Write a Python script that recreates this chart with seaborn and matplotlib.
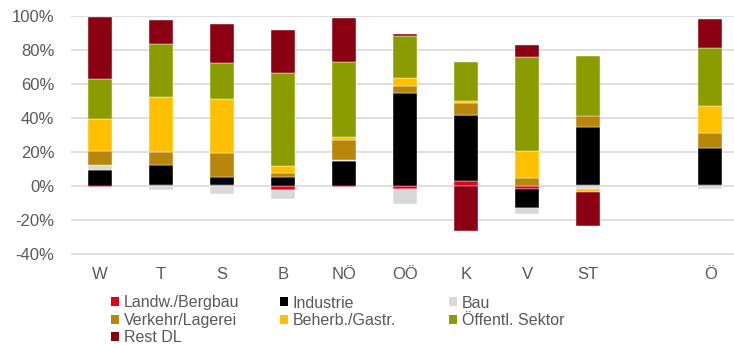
import numpy as np
import matplotlib
matplotlib.use("Agg")
import matplotlib.pyplot as plt
from matplotlib.patches import Patch
import seaborn as sns

sns.set_style("white")
plt.rcParams["font.family"] = ["Liberation Sans", "DejaVu Sans"]

# Regions (a blank slot separates the federal total "Ö")
regions = ["W", "T", "S", "B", "NÖ", "OÖ", "K", "V", "ST", "Ö"]
order = ["W", "T", "S", "B", "NÖ", "OÖ", "K", "V", "ST", " ", "Ö"]

# Contributions in percentage points per sector
landw = [-0.8, 0.4, 0.3, -2.6, -0.6, -1.6, 3.0, -2.0, 0.4, 0.4]
industrie = [9.4, 12.0, 5.0, 5.1, 14.5, 55.0, 38.5, -11.2, 34.5, 22.1]
bau = [3.0, -2.4, -4.9, -4.9, 1.0, -9.0, 0.3, -3.4, -1.6, -1.8]
verkehr = [8.2, 7.8, 14.3, 2.5, 11.4, 3.7, 7.2, 4.5, 6.3, 8.9]
beherb = [18.8, 32.2, 31.8, 3.9, 1.9, 5.1, 1.2, 16.1, -1.7, 15.9]
oeffentl = [23.5, 31.1, 20.8, 55.1, 44.1, 24.7, 22.9, 55.5, 35.3, 34.1]
rest_dl = [36.3, 14.1, 23.1, 25.3, 26.1, 0.8, -26.7, 6.6, -20.0, 16.6]

series = [
    ("Landw./Bergbau", landw, "#E2001A"),
    ("Industrie", industrie, "#000000"),
    ("Bau", bau, "#D9D9D9"),
    ("Verkehr/Lagerei", verkehr, "#B8860B"),
    ("Beherb./Gastr.", beherb, "#FFC000"),
    ("Öffentl. Sektor", oeffentl, "#8A9C00"),
    ("Rest DL", rest_dl, "#8B0012"),
]

y_ticks = [-40, -20, 0, 20, 40, 60, 80, 100]
y_ticklabels = ["-40%", "-20%", "0%", "20%", "40%", "60%", "80%", "100%"]

text_color = "#595959"
grid_color = "#D9D9D9"

fig = plt.figure(figsize=(7.34, 3.46), dpi=100)
ax = fig.add_axes([71 / 734, 1 - 254.5 / 346, 1 - 71 / 734, (254.5 - 15.5) / 346])

pos_base = np.zeros(len(regions))
neg_base = np.zeros(len(regions))
for name, vals, color in series:
    v = np.asarray(vals, dtype=float)
    bottom = np.where(v >= 0, pos_base, neg_base)
    sns.barplot(x=regions, y=v, order=order, bottom=bottom, width=0.4,
                color=color, saturation=1, errorbar=None, ax=ax,
                edgecolor="#FFFFFF", linewidth=0.3, zorder=3)
    pos_base = pos_base + np.where(v >= 0, v, 0)
    neg_base = neg_base + np.where(v < 0, v, 0)

ax.set_xlim(-0.475, 10.39)
ax.set_ylim(-40.3, 100.3)
ax.set_yticks(y_ticks)
ax.set_yticklabels(y_ticklabels)
ax.yaxis.grid(True, color=grid_color, linewidth=1.2, zorder=0)
ax.xaxis.grid(False)
ax.set_axisbelow(True)
for s in ax.spines.values():
    s.set_visible(False)
ax.tick_params(axis="both", length=0, labelsize=12, colors=text_color)
ax.tick_params(axis="y", pad=12)
ax.tick_params(axis="x", pad=9)
ax.set_xlabel("")
ax.set_ylabel("")

# Legend laid out row by row in three columns
cols = [[0, 3, 6], [1, 4], [2, 5]]
col_x = [111 / 734, 280 / 734, 449 / 734]
for xs, idx in zip(col_x, cols):
    handles = [Patch(facecolor=series[i][2], edgecolor="none") for i in idx]
    labels = [series[i][0] for i in idx]
    fig.legend(handles, labels, loc="upper left", bbox_to_anchor=(xs, 1 - 295.5 / 346),
               frameon=False, fontsize=11.5, labelcolor=text_color,
               handlelength=0.5, handleheight=0.5, handletextpad=0.3,
               labelspacing=0.15, borderpad=0, borderaxespad=0)

fig.savefig("out.png", dpi=100)
